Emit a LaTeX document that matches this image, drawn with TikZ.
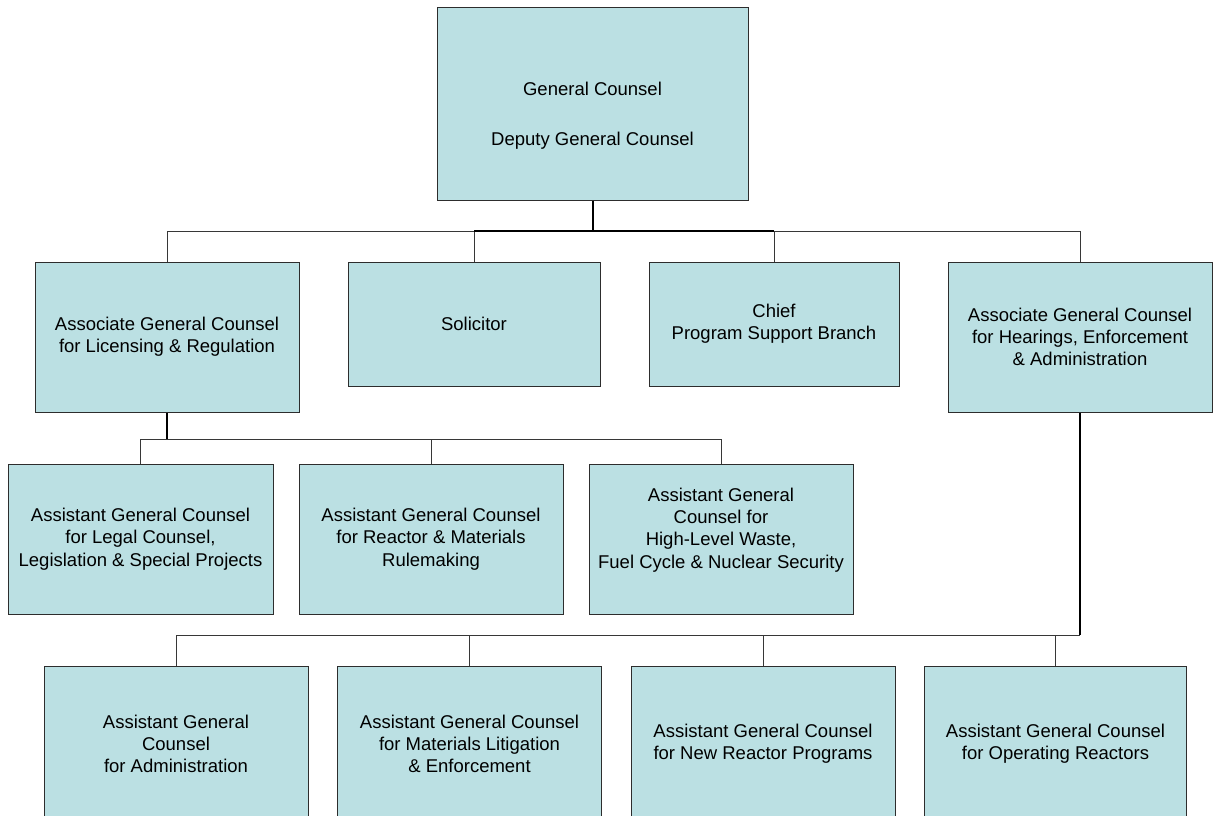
\documentclass[tikz,border=0pt]{standalone}
\usepackage{fontspec}
\setmainfont{Liberation Sans}
\definecolor{boxfill}{RGB}{187,224,227}
\definecolor{boxborder}{RGB}{45,45,45}
\definecolor{linegray}{RGB}{55,55,55}
\tikzset{
  orgbox/.style={draw=boxborder, fill=boxfill, line width=1pt, align=center, inner sep=0pt, text=black,
    font=\fontsize{18.5}{22.3}\selectfont},
  txt/.style={align=center, inner sep=0pt, text=black, font=\fontsize{18.5}{22.3}\selectfont},
  thin link/.style={draw=linegray, line width=1pt},
  main link/.style={draw=black, line width=2pt}
}
\begin{document}
\begin{tikzpicture}[x=1pt,y=-1pt]
\useasboundingbox (0,0) rectangle (1213,815);
\begin{scope}
\clip (0,0) rectangle (1213,815);
% top
\node[orgbox, minimum width=311pt, minimum height=193pt] (top) at (592.5,103.5) {};
\node[txt] (toptext) at (592.5,116) {General Counsel\\[27.7pt]Deputy General Counsel};
% row 2
\node[orgbox, minimum width=264pt, minimum height=150pt] (agcl) at (167,337) {Associate General Counsel\\for Licensing \& Regulation};
\node[orgbox, minimum width=252pt, minimum height=124pt] (sol) at (474,324) {Solicitor};
\node[orgbox, minimum width=250pt, minimum height=124pt] (chief) at (774,324) {Chief\\Program Support Branch};
\node[orgbox, minimum width=264pt, minimum height=150pt] (agch) at (1080,337) {Associate General Counsel\\for Hearings, Enforcement\\\& Administration};
% row 3
\node[orgbox, minimum width=265pt, minimum height=150pt] (lc) at (140.5,539) {Assistant General Counsel\\for Legal Counsel,\\Legislation \& Special Projects};
\node[orgbox, minimum width=264pt, minimum height=150pt] (rm) at (431,539) {Assistant General Counsel\\for Reactor \& Materials\\Rulemaking};
\node[orgbox, minimum width=264pt, minimum height=150pt] (hlw) at (721,539) {};
\node[txt] (hlwtext) at (721,530) {Assistant General\\Counsel for\\High-Level Waste,\\Fuel Cycle \& Nuclear Security};
% row 4
\node[orgbox, minimum width=264pt, minimum height=156pt] (adm) at (176,744) {Assistant General\\Counsel\\for Administration};
\node[orgbox, minimum width=264pt, minimum height=156pt] (mat) at (469.5,744) {Assistant General Counsel\\for Materials Litigation\\\& Enforcement};
\node[orgbox, minimum width=264pt, minimum height=156pt] (nrp) at (763,744) {Assistant General Counsel\\for New Reactor Programs};
\node[orgbox, minimum width=262pt, minimum height=156pt] (opr) at (1055.5,744) {Assistant General Counsel\\for Operating Reactors};
\end{scope}
% buses
\coordinate (bus1) at (0,231);
\coordinate (bus2) at (0,439);
\coordinate (bus3) at (0,635);
% row 1 -> row 2
\draw[thin link] (agcl.north) -- (agcl.north |- bus1) -- (agch.north |- bus1) -- (agch.north);
\draw[thin link] (sol.north) -- (sol.north |- bus1);
\draw[thin link] (chief.north) -- (chief.north |- bus1);
\draw[draw=black, line width=1.4pt] (sol.north |- bus1) -- (chief.north |- bus1);
\draw[main link] (top.south) -- (top.south |- bus1);
% row 2 -> row 3
\draw[thin link] (lc.north) -- (lc.north |- bus2) -- (hlw.north |- bus2) -- (hlw.north);
\draw[thin link] (rm.north) -- (rm.north |- bus2);
\draw[main link] (agcl.south) -- (agcl.south |- bus2);
% row 2 -> row 4
\draw[thin link] (adm.north) -- (adm.north |- bus3) -- (agch.south |- bus3);
\draw[thin link] (mat.north) -- (mat.north |- bus3);
\draw[thin link] (nrp.north) -- (nrp.north |- bus3);
\draw[thin link] (opr.north) -- (opr.north |- bus3);
\draw[main link] (agch.south) -- (agch.south |- bus3);
\end{tikzpicture}
\end{document}
